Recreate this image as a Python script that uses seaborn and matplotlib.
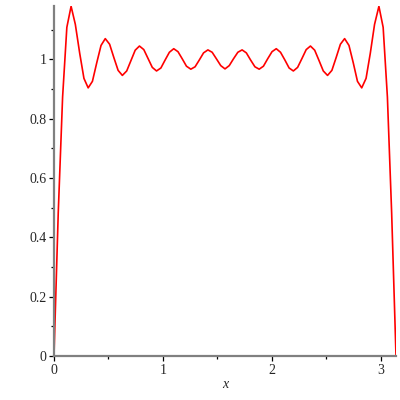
import numpy as np
import pandas as pd
import seaborn as sns
import matplotlib.pyplot as plt
from matplotlib.ticker import MultipleLocator

# points (x from 0 to pi)
x_vals = [0.000, 0.039, 0.079, 0.118, 0.157, 0.196, 0.236, 0.275, 0.314, 0.353,
          0.393, 0.432, 0.471, 0.511, 0.550, 0.589, 0.628, 0.668, 0.707, 0.746,
          0.785, 0.825, 0.864, 0.903, 0.942, 0.982, 1.021, 1.060, 1.100, 1.139,
          1.178, 1.217, 1.257, 1.296, 1.335, 1.374, 1.414, 1.453, 1.492, 1.532,
          1.571, 1.610, 1.649, 1.689, 1.728, 1.767, 1.806, 1.846, 1.885, 1.924,
          1.963, 2.003, 2.042, 2.081, 2.121, 2.160, 2.199, 2.238, 2.278, 2.317,
          2.356, 2.395, 2.435, 2.474, 2.513, 2.553, 2.592, 2.631, 2.670, 2.710,
          2.749, 2.788, 2.827, 2.867, 2.906, 2.945, 2.985, 3.024, 3.063, 3.102,
          3.142]
y_vals = [0.000, 0.483, 0.873, 1.108, 1.179, 1.118, 1.021, 0.936, 0.904, 0.926,
          0.989, 1.047, 1.070, 1.051, 1.006, 0.963, 0.946, 0.961, 0.996, 1.031,
          1.045, 1.033, 1.003, 0.973, 0.961, 0.971, 0.998, 1.024, 1.036, 1.026,
          1.002, 0.977, 0.967, 0.975, 0.998, 1.022, 1.032, 1.024, 1.002, 0.979,
          0.968, 0.979, 1.002, 1.024, 1.032, 1.022, 0.998, 0.975, 0.967, 0.977,
          1.002, 1.026, 1.036, 1.024, 0.998, 0.971, 0.961, 0.973, 1.003, 1.033,
          1.045, 1.031, 0.996, 0.961, 0.946, 0.963, 1.006, 1.051, 1.070, 1.047,
          0.989, 0.926, 0.904, 0.936, 1.021, 1.118, 1.179, 1.108, 0.873, 0.483,
          0.000]
x_ticks = [0, 1, 2, 3]
y_ticks = [0, 0.2, 0.4, 0.6, 0.8, 1]
y_tick_labels = ["0", "0.2", "0.4", "0.6", "0.8", "1"]

df = pd.DataFrame({"x": x_vals, "y": y_vals})

sns.set_style("white")
plt.rcParams['font.family'] = ['Liberation Serif', 'DejaVu Serif']

fig = plt.figure(figsize=(4, 4), dpi=100)
ax = fig.add_axes([0.135, 0.11, 0.855, 0.875])
sns.lineplot(data=df, x="x", y="y", color="red", linewidth=1.2, ax=ax,
             sort=False, estimator=None)

ax.set_xlim(0, 3.142)
ax.set_ylim(0, 1.18)
ax.set_xticks(x_ticks)
ax.set_xticklabels([str(t) for t in x_ticks])
ax.set_yticks(y_ticks)
ax.set_yticklabels(y_tick_labels)
ax.xaxis.set_minor_locator(MultipleLocator(0.5))
ax.yaxis.set_minor_locator(MultipleLocator(0.1))

for s in ["top", "right"]:
    ax.spines[s].set_visible(False)
for s in ["left", "bottom"]:
    ax.spines[s].set_color("#808080")
    ax.spines[s].set_linewidth(1.6)

ax.tick_params(which="major", direction="out", length=3.5, width=0.9,
               color="black", labelsize=10, pad=2, left=True, bottom=True)
ax.tick_params(which="minor", direction="out", length=2, width=0.9,
               color="black", left=True, bottom=True)

ax.set_xlabel("x", fontstyle="italic", fontsize=10, labelpad=1)
ax.set_ylabel("")

fig.savefig("out.png", dpi=100)
